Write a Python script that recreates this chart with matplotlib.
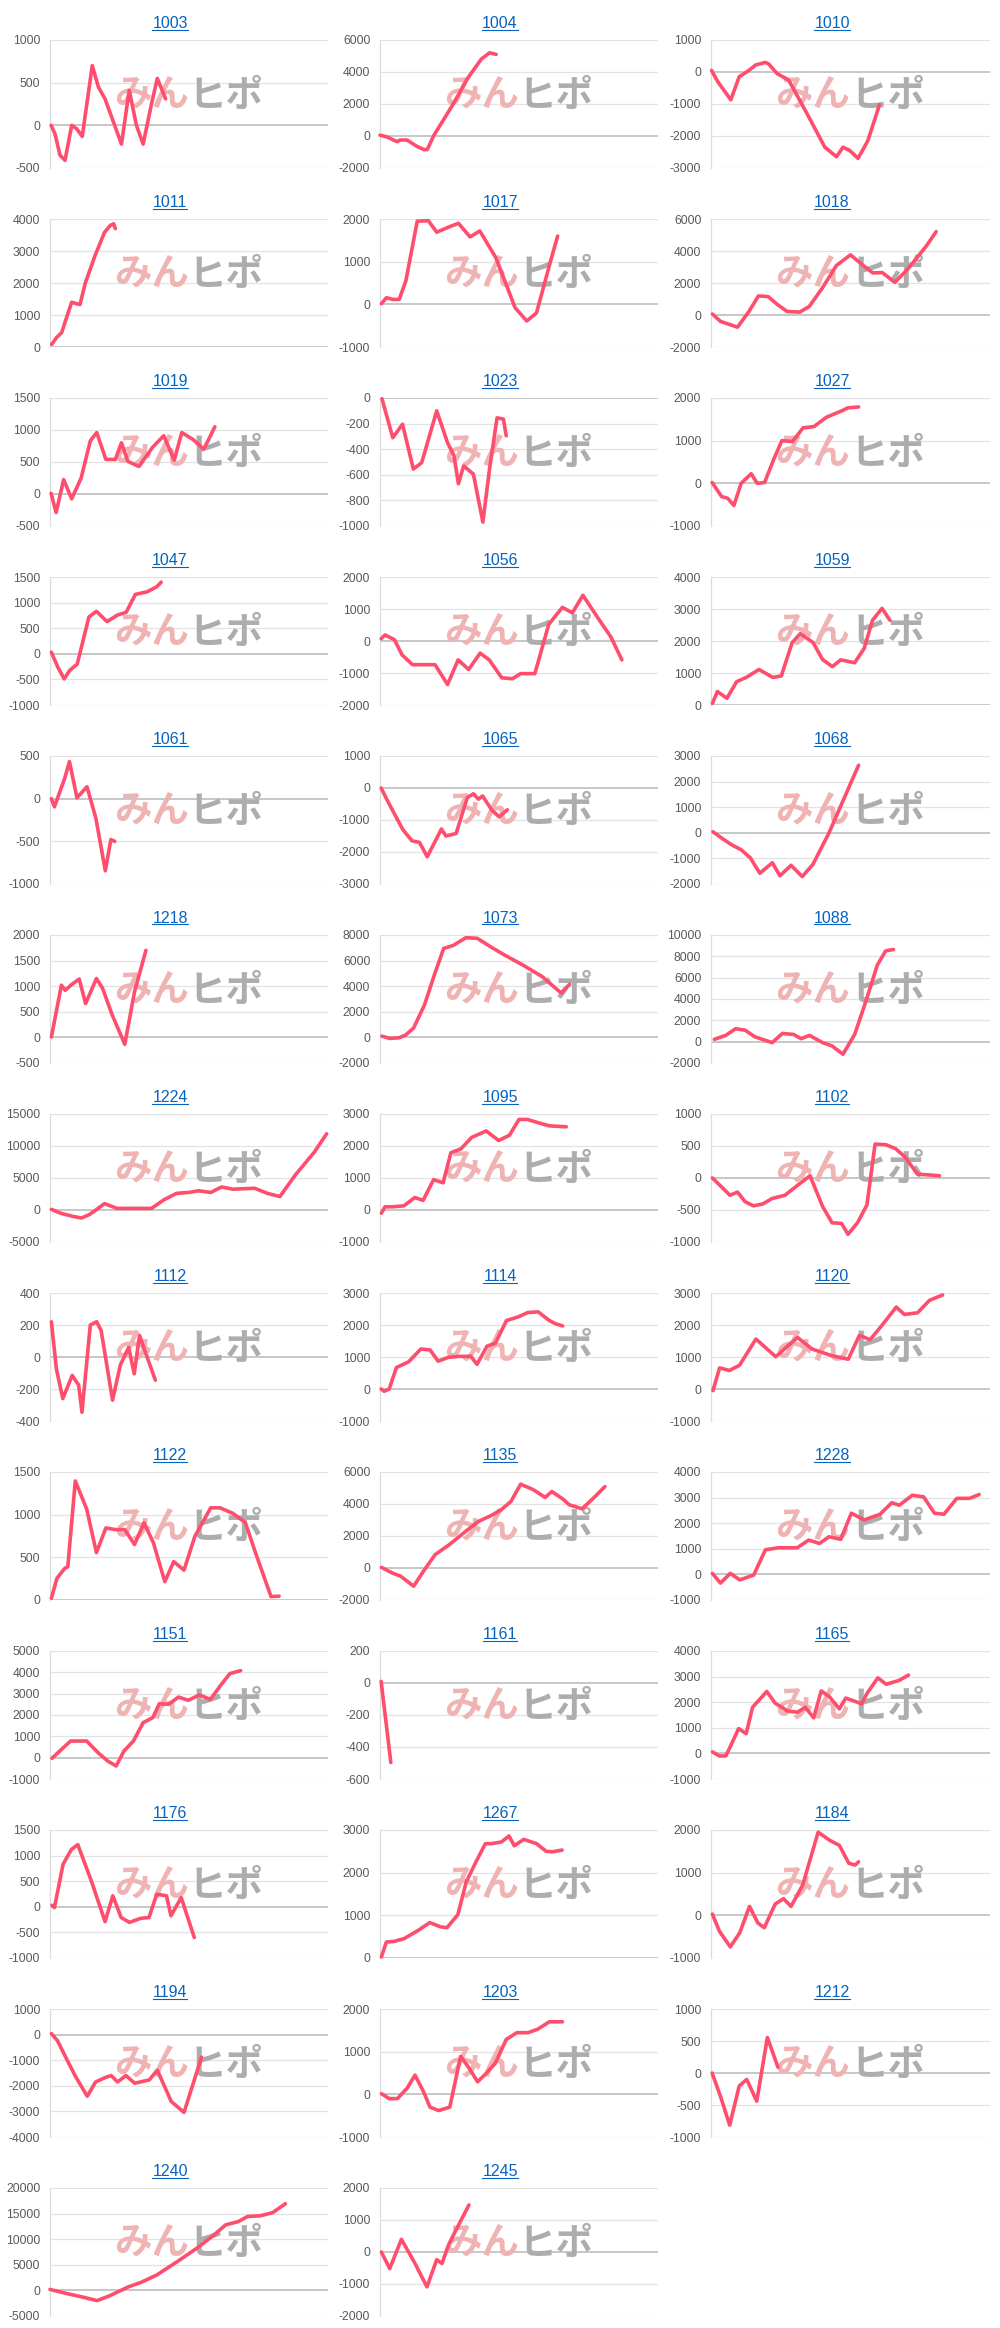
import matplotlib
matplotlib.use('Agg')
import matplotlib.pyplot as plt
from matplotlib.lines import Line2D
import numpy as np

plt.rcParams['font.family'] = ['Liberation Sans', 'Noto Sans CJK JP']

# x = position along the period (0-100 of the axis width), y = balance
x1003 = [0.4, 1.8, 3.6, 5.4, 7.8, 9.6, 11.6, 15.2, 17.4, 19.8, 22.8, 25.7, 28.5, 31.1, 33.5, 36.5, 38.6, 41.6]
y1003 = [0, -100, -350, -410, 0, -40, -130, 700, 450, 310, 40, -220, 410, 0, -220, 250, 550, 310]
x1004 = [0, 2.4, 6.1, 7.3, 9.7, 13.3, 15.8, 17, 19.4, 26, 31.5, 36.4, 39.4, 40.6, 41.8]
y1004 = [50, -50, -350, -250, -250, -650, -850, -850, 50, 1900, 3600, 4800, 5200, 5150, 5100]
x1010 = [0.2, 2.4, 7.1, 10.1, 13.6, 16, 19.5, 20.7, 23.7, 27.8, 31.4, 34.9, 40.8, 45, 47.3, 49.7, 52.7, 56.2, 60.4]
y1010 = [50, -300, -870, -150, 50, 220, 300, 250, -50, -250, -820, -1380, -2350, -2650, -2350, -2450, -2700, -2150, -1020]
x1011 = [0.6, 2.4, 4.2, 6, 7.8, 9.6, 10.8, 12.7, 16.3, 19.6, 21.7, 22.9, 23.5]
y1011 = [80, 300, 450, 930, 1400, 1350, 1330, 2000, 2880, 3580, 3800, 3850, 3700]
x1017 = [0.5, 2.3, 4.6, 6.9, 9.3, 13.4, 17.4, 20.4, 24.3, 28.2, 32.4, 35.9, 41.7, 48.6, 52.8, 56.3, 61.3, 63.9]
y1017 = [15, 155, 115, 115, 550, 1950, 1960, 1690, 1800, 1900, 1580, 1720, 1090, -80, -390, -200, 1000, 1600]
x1018 = [0.5, 3.4, 6.8, 9.5, 13.6, 17, 20.5, 23.9, 27.3, 31.8, 35.2, 39.8, 45, 50, 54.5, 58, 61.4, 65.9, 70.5, 77.3, 80.7]
y1018 = [60, -400, -600, -760, 220, 1190, 1150, 640, 220, 180, 530, 1660, 3100, 3760, 3100, 2630, 2650, 2040, 2860, 4340, 5210]
x1019 = [0.4, 2.2, 4.9, 7.8, 11.2, 14.5, 16.8, 20.1, 23.5, 25.7, 28, 32, 36.9, 40.9, 44.7, 47.4, 51.5, 55.3, 57.5, 59.3]
y1019 = [10, -290, 225, -75, 250, 830, 960, 540, 540, 800, 510, 430, 730, 910, 530, 960, 850, 700, 890, 1050]
x1023 = [0.7, 4.6, 8.1, 12, 15, 20.4, 24.3, 26.6, 28.2, 30.1, 33.6, 37, 39.4, 42.1, 44.4, 45.4]
y1023 = [-5, -310, -205, -555, -505, -100, -350, -450, -670, -530, -595, -970, -555, -155, -165, -295]
x1027 = [0.4, 3.8, 6, 8.2, 10.8, 14.4, 16.6, 19.2, 22.6, 25.4, 29.2, 33, 36.9, 41.4, 46.9, 49.1, 52.9]
y1027 = [20, -310, -350, -520, 0, 225, 0, 20, 580, 1000, 980, 1300, 1330, 1550, 1700, 1770, 1790]
x1047 = [0.5, 2.8, 5.1, 7, 9.8, 14, 16.7, 20.5, 24.4, 27.4, 30.7, 34.9, 38.4, 40]
y1047 = [30, -260, -490, -330, -200, 720, 830, 630, 760, 810, 1160, 1210, 1310, 1400]
x1056 = [0.4, 1.8, 5.2, 7.9, 11.7, 19.8, 24.3, 28.1, 31.9, 36, 39.3, 43.8, 47.6, 50.6, 55.7, 60.7, 65.6, 69.2, 73, 78.7, 83.1, 87]
y1056 = [70, 190, 40, -430, -740, -740, -1360, -590, -890, -380, -590, -1150, -1180, -1020, -1020, 520, 1050, 880, 1430, 680, 120, -590]
x1059 = [0.5, 2.3, 5.7, 9.2, 12.6, 17.2, 22.2, 25.2, 29.1, 32, 36.6, 40, 43.5, 46.5, 51.5, 54.9, 57.9, 61.3, 64.1]
y1059 = [50, 420, 210, 730, 860, 1110, 860, 910, 1950, 2230, 1950, 1420, 1200, 1410, 1320, 1770, 2650, 3020, 2650]
x1061 = [0.5, 1.6, 5.2, 7, 9.7, 13.3, 16.5, 19.9, 21.9, 23.3]
y1061 = [0, -95, 230, 435, 10, 140, -230, -845, -480, -500]
x1065 = [0.4, 2.7, 8.2, 11.5, 14.2, 17, 22.1, 23.7, 27.4, 31.4, 33.6, 35.4, 36.9, 40.3, 42.9, 45.8]
y1065 = [0, -400, -1300, -1650, -1700, -2150, -1280, -1500, -1420, -300, -180, -350, -250, -700, -900, -680]
x1068 = [0.7, 4, 7.4, 10.8, 14.1, 17.5, 22, 24.7, 28.7, 32.7, 36.5, 42.2, 47.8, 52.9]
y1068 = [40, -220, -470, -660, -980, -1580, -1170, -1680, -1270, -1710, -1240, -25, 1370, 2640]
x1218 = [0.5, 4.1, 5.5, 7.5, 10.5, 12.8, 16.7, 18.9, 22.4, 26.9, 30.4, 34.5]
y1218 = [10, 1020, 920, 1020, 1140, 660, 1150, 960, 435, -135, 890, 1700]
x1073 = [0.7, 3.4, 6.9, 9.2, 12.1, 16, 19.5, 22.9, 26.3, 30.9, 35, 40, 44.6, 51.5, 58.4, 65.2, 68.2]
y1073 = [100, -80, -30, 180, 740, 2540, 4850, 6950, 7180, 7790, 7740, 7050, 6460, 5640, 4740, 3460, 4150]
x1088 = [1.2, 5.3, 8.8, 12.2, 15.7, 21.9, 25.6, 29.6, 32.3, 35.3, 40, 43.4, 47.3, 51.5, 55.7, 59.6, 62.6, 65.4]
y1088 = [220, 590, 1210, 1080, 460, -90, 770, 680, 280, 590, -90, -400, -1180, 680, 3930, 7180, 8510, 8640]
x1224 = [0.5, 3.8, 8.3, 11.3, 14, 16.2, 19.6, 24.1, 27.5, 36.5, 41, 45.5, 50, 53.4, 57.9, 61.7, 65.8, 73.6, 78.2, 82.7, 88.3, 95, 99.5]
y1224 = [100, -500, -1000, -1250, -750, -100, 1000, 250, 250, 250, 1600, 2600, 2750, 3000, 2750, 3600, 3250, 3400, 2600, 2100, 5500, 9000, 11900]
x1095 = [0.5, 1.8, 4.5, 8.6, 12.5, 15.5, 19.3, 22.7, 25.5, 29.1, 33, 38.2, 42.7, 46.6, 50, 53, 56.8, 60.9, 67]
y1095 = [-100, 100, 100, 130, 390, 300, 950, 850, 1790, 1910, 2270, 2470, 2170, 2340, 2830, 2830, 2730, 2630, 2600]
x1102 = [0.5, 3.8, 6.8, 9.5, 12.2, 15.2, 18.6, 21.9, 26.5, 31, 35.5, 40, 43.4, 46.8, 49.1, 52.5, 55.9, 58.8, 62.7, 66.1, 69.5, 74, 77.4, 81.9]
y1102 = [0, -140, -270, -220, -370, -435, -405, -320, -270, -115, 35, -445, -700, -710, -880, -700, -420, 530, 520, 460, 330, 60, 50, 35]
x1112 = [0.5, 2.3, 4.6, 8, 10.3, 11.5, 14.5, 16.8, 18.4, 22.5, 25.3, 28.3, 30.3, 32.2, 34.5, 37.9]
y1112 = [220, -75, -260, -115, -175, -345, 200, 220, 165, -270, -50, 60, -105, 135, 20, -145]
x1114 = [0.4, 1.5, 3.3, 5.9, 10.3, 14.7, 18, 20.9, 24.6, 28.4, 32.7, 34.9, 38.5, 41.5, 45.5, 49.9, 53.2, 56.9, 60.9, 63.1, 65.7]
y1114 = [0, -70, 0, 670, 850, 1250, 1220, 870, 990, 1020, 1020, 770, 1340, 1430, 2140, 2260, 2390, 2410, 2140, 2040, 1970]
x1120 = [0.7, 3.1, 6.6, 10.2, 16.1, 23.2, 31, 36.2, 43.3, 49.2, 53.2, 57, 61, 66.4, 69.3, 74, 78.3, 83]
y1120 = [-50, 660, 580, 740, 1560, 1010, 1610, 1250, 1040, 930, 1680, 1540, 1960, 2560, 2330, 2380, 2770, 2940]
x1122 = [0.5, 2.5, 5.3, 6.4, 9.1, 13.2, 16.7, 20.1, 23.5, 26.9, 30.4, 33.8, 37.2, 41.3, 44.5, 48.2, 52.1, 57.8, 61.2, 65.8, 70.3, 73.7, 79.5, 82.4]
y1122 = [20, 255, 370, 390, 1395, 1065, 555, 845, 825, 825, 650, 905, 670, 215, 450, 350, 745, 1080, 1080, 1015, 905, 575, 40, 45]
x1135 = [0.5, 4.4, 7.5, 12.1, 15.6, 19.8, 24.9, 30.8, 35.4, 40.1, 43.6, 47.1, 50.6, 55.2, 59.4, 61.8, 65.7, 68.1, 72.7, 77.4, 80.9]
y1135 = [40, -310, -520, -1140, -210, 830, 1455, 2290, 2910, 3290, 3640, 4160, 5240, 4890, 4410, 4780, 4320, 3950, 3700, 4470, 5090]
x1228 = [0.5, 3.4, 6.9, 10.3, 15.3, 19.5, 24, 30.9, 35, 38.9, 42.3, 46.5, 50.3, 54.9, 60.6, 64.8, 67.5, 72.1, 76.2, 80.1, 83.5, 88.1, 92.7, 96.1]
y1228 = [40, -340, 40, -215, -25, 960, 1040, 1040, 1340, 1210, 1470, 1370, 2390, 2130, 2350, 2800, 2700, 3090, 3030, 2390, 2350, 2970, 2970, 3120]
x1151 = [0.7, 3.5, 7.4, 10.4, 13.2, 17.3, 20.8, 23.8, 26.6, 30, 33.5, 37, 39.3, 42.7, 46.2, 49.7, 53.8, 57.7, 61.2, 64.7, 68.6]
y1151 = [-30, 310, 780, 780, 780, 230, -160, -390, 310, 780, 1640, 1880, 2530, 2500, 2840, 2690, 2940, 2730, 3360, 3940, 4080]
x1161 = [0.4, 3.9]
y1161 = [10, -497]
x1165 = [0.5, 3, 5.3, 6.9, 9.9, 12.6, 14.9, 20, 23, 27.6, 31, 33.8, 36.8, 39.5, 42.5, 46, 48.3, 51.7, 54, 55.9, 59.8, 62.8, 67.4, 70.8]
y1165 = [60, -100, -100, 260, 970, 770, 1800, 2420, 1960, 1650, 1610, 1800, 1390, 2440, 2210, 1740, 2160, 2030, 1930, 2340, 2950, 2700, 2850, 3060]
x1176 = [0.7, 1.6, 4.7, 7.7, 10, 15.1, 19.8, 22.6, 25.6, 28.6, 32.6, 35.6, 38.4, 41.9, 43.5, 47.2, 51.9]
y1176 = [30, -15, 830, 1120, 1215, 470, -290, 215, -210, -305, -225, -210, 245, 215, -175, 180, -600]
x1267 = [0.5, 2.3, 5.1, 8.7, 13.8, 17.9, 21.8, 24.1, 28, 31, 34.5, 37.9, 40.2, 43.7, 46.4, 48.3, 51.7, 56.3, 59.8, 62.1, 65.5]
y1267 = [25, 375, 390, 455, 650, 830, 730, 710, 1015, 1780, 2250, 2680, 2680, 2720, 2860, 2630, 2780, 2680, 2500, 2490, 2530]
x1184 = [0.5, 3, 6.9, 10.3, 13.8, 16.8, 19.1, 23, 26, 28.7, 32.9, 38.4, 42.5, 46, 49.4, 51.7, 52.9]
y1184 = [30, -370, -740, -410, 210, -180, -290, 265, 390, 210, 715, 1950, 1760, 1640, 1220, 1180, 1255]
x1194 = [0.5, 2.7, 6.1, 9.1, 13.4, 16.4, 19.8, 22, 24.3, 27.3, 30.5, 35.7, 38.6, 43.6, 48.2, 51.6, 54.5]
y1194 = [40, -240, -980, -1620, -2410, -1850, -1680, -1600, -1850, -1600, -1900, -1770, -1390, -2610, -3040, -1880, -880]
x1203 = [0.5, 3.3, 6.3, 9.8, 12.6, 15.7, 18, 21.1, 25.1, 29, 32.1, 35.1, 37.9, 41.5, 45.4, 49.2, 53.2, 56.7, 60.9, 65.6]
y1203 = [15, -100, -100, 150, 450, 55, -300, -380, -300, 890, 610, 295, 470, 730, 1285, 1445, 1445, 1525, 1700, 1700]
x1212 = [0.4, 3.4, 6.7, 10.1, 12.8, 16.4, 20.2, 24]
y1212 = [0, -365, -815, -205, -100, -440, 555, 90]
x1240 = [0, 5.6, 12.4, 16.9, 21.4, 28.2, 32.7, 38.4, 46.3, 53, 58.7, 63.2, 67.7, 71.1, 75.6, 80.1, 84.7]
y1240 = [190, -560, -1380, -2000, -1060, 690, 1560, 3000, 5810, 8310, 10700, 12800, 13440, 14440, 14560, 15190, 16940]
x1245 = [0.5, 3.5, 7.7, 12.3, 16.9, 20.4, 22.3, 24.6, 27.4, 32]
y1245 = [0, -520, 395, -310, -1090, -240, -360, 210, 700, 1470]

names = ['1003', '1004', '1010', '1011', '1017', '1018', '1019', '1023', '1027',
         '1047', '1056', '1059', '1061', '1065', '1068', '1218', '1073', '1088',
         '1224', '1095', '1102', '1112', '1114', '1120', '1122', '1135', '1228',
         '1151', '1161', '1165', '1176', '1267', '1184', '1194', '1203', '1212',
         '1240', '1245']
xs = [x1003, x1004, x1010, x1011, x1017, x1018, x1019, x1023, x1027,
      x1047, x1056, x1059, x1061, x1065, x1068, x1218, x1073, x1088,
      x1224, x1095, x1102, x1112, x1114, x1120, x1122, x1135, x1228,
      x1151, x1161, x1165, x1176, x1267, x1184, x1194, x1203, x1212,
      x1240, x1245]
ys = [y1003, y1004, y1010, y1011, y1017, y1018, y1019, y1023, y1027,
      y1047, y1056, y1059, y1061, y1065, y1068, y1218, y1073, y1088,
      y1224, y1095, y1102, y1112, y1114, y1120, y1122, y1135, y1228,
      y1151, y1161, y1165, y1176, y1267, y1184, y1194, y1203, y1212,
      y1240, y1245]
ymins = [-500, -2000, -3000, 0, -1000, -2000, -500, -1000, -1000,
         -1000, -2000, 0, -1000, -3000, -2000, -500, -2000, -2000,
         -5000, -1000, -1000, -400, -1000, -1000, 0, -2000, -1000,
         -1000, -600, -1000, -1000, 0, -1000, -4000, -1000, -1000,
         -5000, -2000]
ymaxs = [1000, 6000, 1000, 4000, 2000, 6000, 1500, 0, 2000,
         1500, 2000, 4000, 500, 1000, 3000, 2000, 8000, 10000,
         15000, 3000, 1000, 400, 3000, 3000, 1500, 6000, 4000,
         5000, 200, 4000, 1500, 3000, 2000, 1000, 2000, 1000,
         20000, 2000]
ysteps = [500, 2000, 1000, 1000, 1000, 2000, 500, 200, 1000,
          500, 1000, 1000, 500, 1000, 1000, 500, 2000, 2000,
          5000, 1000, 500, 200, 1000, 1000, 500, 2000, 1000,
          1000, 200, 1000, 500, 1000, 1000, 1000, 1000, 500,
          5000, 1000]

W, H = 1000, 2328
fig = plt.figure(figsize=(W / 100, H / 100), dpi=100)
fig.patch.set_facecolor('white')

lefts = [50, 380, 711]
rights = [328, 658, 990]
centers = [170, 500, 832]
pitch = 179
line_color = '#ff4d6d'
link_blue = '#0563c1'

titles = []
for i in range(len(names)):
    r, c = divmod(i, 3)
    top = pitch * r + 40
    bot = pitch * r + 168
    ax = fig.add_axes([lefts[c] / W, 1 - bot / H, (rights[c] - lefts[c]) / W, (bot - top) / H])
    ticks = np.arange(ymins[i], ymaxs[i] + 1, ysteps[i])
    for v in ticks:
        if v == 0:
            ax.axhline(v, color='#bdbdbd', lw=1.2, zorder=1)
        else:
            ax.axhline(v, color='#e3e3e3', lw=0.9, zorder=0)
    ax.plot(xs[i], ys[i], color=line_color, lw=2.6, solid_joinstyle='round',
            solid_capstyle='round', zorder=4, clip_on=False)
    ax.set_xlim(0, 100)
    ax.set_ylim(ymins[i], ymaxs[i])
    ax.set_yticks(ticks)
    ax.set_yticklabels([str(int(v)) for v in ticks])
    ax.set_xticks([])
    ax.tick_params(axis='y', length=0, pad=7, labelsize=8.8, labelcolor='#595959')
    for s in ['top', 'right', 'bottom']:
        ax.spines[s].set_visible(False)
    ax.spines['left'].set_color('#dcdcdc')
    ax.spines['left'].set_linewidth(0.9)
    ax.set_facecolor('none')

    # watermark
    ax.text(0.5, 0.57, 'みん', transform=ax.transAxes, ha='right', va='center',
            fontsize=27, fontweight='bold', color='#efb3b3',
            family=['Noto Sans CJK JP'], zorder=2)
    ax.text(0.5, 0.57, 'ヒポ', transform=ax.transAxes, ha='left', va='center',
            fontsize=27, fontweight='bold', color='#adadad',
            family=['Noto Sans CJK JP'], zorder=2)

    t = fig.text(centers[c] / W, 1 - (pitch * r + 28) / H, names[i], ha='center',
                 va='baseline', color=link_blue, fontsize=11.5)
    titles.append(t)

fig.canvas.draw()
renderer = fig.canvas.get_renderer()
for t in titles:
    bb = t.get_window_extent(renderer)
    yy = (bb.y0 + 1.5) / H
    fig.add_artist(Line2D([bb.x0 / W, bb.x1 / W], [yy, yy], transform=fig.transFigure,
                          color=link_blue, lw=0.8))

fig.savefig('out.png', dpi=100, facecolor='white')
